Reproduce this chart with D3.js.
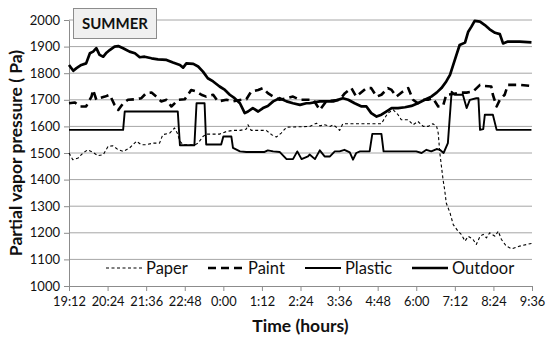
<!DOCTYPE html>
<html><head><meta charset="utf-8">
<script src="https://cdn.jsdelivr.net/npm/d3@7"></script>
<style>body{margin:0;background:#fff}svg{display:block}</style>
</head><body>
<svg id="c" width="550" height="343"></svg>
<script>
// minutes elapsed since 19:12, value in Pa
const timeTickLabels = ["19:12","20:24","21:36","22:48","0:00","1:12","2:24","3:36","4:48","6:00","7:12","8:24","9:36"];
const yTickValues = [1000,1100,1200,1300,1400,1500,1600,1700,1800,1900,2000];
const seriesNames = ["Paper","Paint","Plastic","Outdoor"];

const paper = [[0,1500],[7,1475],[17,1481],[26,1500],[35,1512],[45,1502],[54,1490],[64,1494],[73,1525],[82,1527],[92,1512],[101,1506],[113,1519],[126,1544],[135,1531],[144,1531],[157,1537],[169,1537],[175,1569],[188,1575],[197,1594],[202,1575],[207,1544],[213,1531],[235,1531],[241,1537],[250,1562],[256,1571],[281,1571],[294,1581],[306,1585],[319,1585],[331,1590],[334,1606],[340,1585],[356,1585],[368,1585],[378,1569],[387,1560],[396,1575],[406,1597],[449,1600],[462,1612],[468,1602],[477,1606],[487,1600],[493,1606],[499,1597],[505,1585],[511,1610],[583,1610],[589,1631],[595,1650],[605,1662],[614,1644],[620,1625],[633,1625],[642,1606],[651,1619],[661,1600],[670,1600],[679,1610],[686,1600],[689,1575],[692,1500],[695,1450],[698,1400],[701,1362],[704,1312],[711,1275],[717,1231],[726,1206],[732,1194],[739,1169],[745,1187],[754,1175],[760,1156],[767,1187],[773,1194],[779,1181],[785,1200],[795,1187],[801,1206],[807,1175],[816,1150],[826,1140],[841,1150],[863,1160]];

const paint = [[0,1687],[11,1690],[20,1675],[32,1675],[42,1712],[45,1737],[51,1700],[57,1706],[67,1712],[76,1719],[85,1681],[92,1662],[101,1687],[110,1700],[123,1702],[135,1706],[144,1725],[154,1727],[163,1712],[172,1694],[182,1700],[191,1675],[204,1700],[216,1702],[228,1737],[238,1731],[247,1719],[256,1712],[269,1719],[278,1694],[294,1700],[306,1694],[322,1700],[331,1702],[340,1731],[353,1737],[362,1744],[371,1725],[381,1712],[393,1700],[406,1706],[418,1712],[431,1700],[449,1700],[456,1700],[468,1662],[480,1694],[505,1700],[515,1725],[527,1744],[536,1712],[555,1744],[564,1744],[574,1712],[583,1719],[595,1744],[602,1737],[611,1712],[623,1731],[633,1744],[642,1700],[651,1687],[661,1700],[670,1700],[679,1706],[689,1675],[698,1677],[704,1719],[717,1722],[729,1727],[742,1727],[754,1731],[767,1756],[776,1752],[788,1750],[791,1719],[798,1675],[804,1700],[813,1719],[819,1756],[841,1756],[863,1752]];

const plastic = [[0,1587],[101,1587],[104,1656],[203,1656],[207,1529],[234,1529],[238,1687],[253,1687],[256,1532],[284,1532],[288,1562],[303,1562],[306,1519],[319,1506],[331,1504],[365,1504],[371,1510],[381,1506],[393,1504],[406,1477],[418,1477],[426,1506],[434,1477],[446,1487],[449,1494],[459,1477],[468,1510],[477,1487],[487,1487],[496,1506],[505,1506],[514,1512],[524,1502],[530,1475],[536,1500],[543,1506],[561,1506],[566,1572],[583,1572],[587,1506],[648,1506],[658,1500],[667,1512],[676,1506],[686,1515],[692,1512],[699,1500],[707,1537],[714,1730],[720,1719],[735,1719],[742,1669],[748,1700],[760,1706],[764,1706],[767,1587],[773,1590],[776,1644],[791,1644],[798,1587],[863,1587]];

const outdoor = [[0,1831],[8,1809],[14,1819],[23,1831],[32,1837],[39,1875],[45,1881],[51,1894],[57,1869],[64,1862],[70,1877],[76,1887],[85,1900],[92,1902],[101,1894],[113,1881],[123,1875],[132,1860],[141,1862],[154,1856],[166,1852],[182,1850],[194,1840],[207,1831],[213,1821],[219,1837],[232,1835],[241,1825],[250,1806],[259,1781],[269,1769],[281,1750],[291,1737],[300,1719],[309,1706],[319,1687],[328,1650],[334,1656],[343,1669],[353,1656],[362,1669],[371,1677],[381,1694],[393,1706],[406,1694],[418,1687],[431,1681],[443,1687],[449,1687],[468,1694],[493,1694],[511,1706],[521,1700],[533,1687],[546,1675],[555,1675],[564,1650],[574,1637],[583,1644],[592,1656],[602,1669],[614,1669],[627,1672],[639,1677],[651,1687],[664,1700],[676,1712],[686,1727],[695,1744],[704,1769],[711,1794],[717,1831],[723,1869],[729,1906],[739,1915],[745,1956],[751,1975],[757,1997],[767,1994],[776,1981],[785,1965],[795,1952],[804,1947],[810,1912],[819,1919],[841,1919],[863,1916]];

const seriesData = [paper, paint, plastic, outdoor];
const styles = [
  {w:1.1, dash:"3,2.5"},
  {w:2.6, dash:"8,5"},
  {w:1.9, dash:null},
  {w:2.7, dash:null}
];

const FONT = "Lato, 'Open Sans', sans-serif";
const svg = d3.select("#c");
const L = 69, R = 532, T = 20, B = 286;
const x = d3.scaleLinear().domain([0, 864]).range([L, R]);
const y = d3.scaleLinear().domain([1000, 2000]).range([B, T]);

// gridlines
svg.append("g").selectAll("line").data(yTickValues.filter(v => v > 1000)).join("line")
  .attr("x1", L).attr("x2", R).attr("y1", d => y(d)).attr("y2", d => y(d))
  .attr("stroke", "#a6a6a6").attr("stroke-width", 1);

// y axis
const yAxis = svg.append("g").attr("transform", `translate(${L},0)`)
  .call(d3.axisLeft(y).tickValues(yTickValues).tickFormat(d3.format("d"))
    .tickSize(5).tickSizeOuter(0).tickPadding(4));
yAxis.select(".domain").attr("stroke", "#8c8c8c");
yAxis.selectAll(".tick line").attr("stroke", "#8c8c8c");
yAxis.selectAll("text").attr("font-family", FONT).attr("font-size", 13).attr("fill", "#111");

// x axis
const xAxis = svg.append("g").attr("transform", `translate(0,${B})`)
  .call(d3.axisBottom(x).tickValues(d3.range(0, 865, 72)).tickFormat((d, i) => timeTickLabels[i])
    .tickSize(5).tickSizeOuter(0).tickPadding(6));
xAxis.select(".domain").attr("stroke", "#8c8c8c");
xAxis.selectAll(".tick line").attr("stroke", "#8c8c8c");
xAxis.selectAll("text").attr("font-family", FONT).attr("font-size", 12.8).attr("fill", "#111");

// series
const line = d3.line().x(d => x(d[0])).y(d => y(d[1]));
seriesData.forEach((s, i) => {
  svg.append("path").datum(s).attr("d", line)
    .attr("fill", "none").attr("stroke", "#000")
    .attr("stroke-width", styles[i].w)
    .attr("stroke-linejoin", "round")
    .attr("stroke-dasharray", styles[i].dash);
});

// legend
const legendX = [106, 208, 305, 412];
const lg = svg.append("g");
seriesNames.forEach((n, i) => {
  lg.append("line").attr("x1", legendX[i]).attr("x2", legendX[i] + 36)
    .attr("y1", 268).attr("y2", 268).attr("stroke", "#000")
    .attr("stroke-width", styles[i].w).attr("stroke-dasharray", styles[i].dash);
  lg.append("text").attr("x", legendX[i] + 40).attr("y", 273.5)
    .attr("font-family", FONT).attr("font-size", 16.5).attr("fill", "#111").text(n);
});

// title box
svg.append("rect").attr("x", 73.5).attr("y", 8.5).attr("width", 83).attr("height", 30)
  .attr("fill", "#f0f0f0").attr("stroke", "#8c8c8c");
svg.append("text").attr("x", 115).attr("y", 29).attr("text-anchor", "middle")
  .attr("font-family", FONT).attr("font-weight", "bold").attr("font-size", 15).attr("fill", "#111").text("SUMMER");

// axis titles
svg.append("text").attr("x", (L + R) / 2).attr("y", 332).attr("text-anchor", "middle")
  .attr("font-family", FONT).attr("font-weight", "bold").attr("font-size", 17.5).attr("fill", "#111")
  .text("Time  (hours)");
svg.append("text").attr("transform", `translate(22,${(T + B) / 2}) rotate(-90)`).attr("text-anchor", "middle")
  .attr("font-family", FONT).attr("font-weight", "bold").attr("font-size", 17.5).attr("fill", "#111")
  .text("Partial vapor pressure ( Pa)");
</script>
</body></html>
